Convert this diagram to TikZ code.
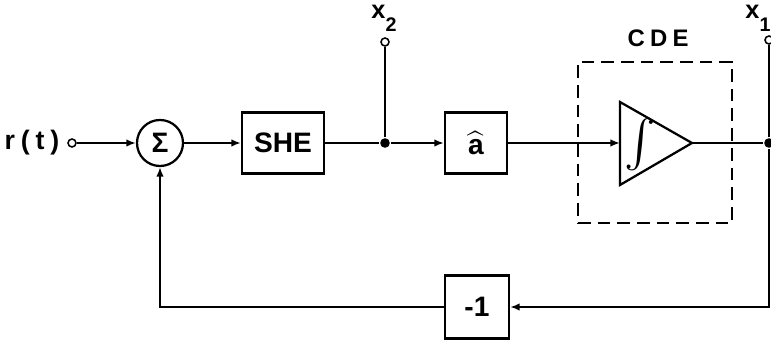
\documentclass[tikz,border=0pt]{standalone}
\usepackage{amsmath}
\usepackage{fontspec}
\setmainfont{Liberation Sans}
\newfontfamily\widefont[LetterSpace=22]{Liberation Sans}
\usetikzlibrary{arrows.meta}

\newcommand{\sublbl}[1]{\raisebox{-0.5em}{\fontsize{14}{15}\selectfont\bfseries #1}}

\begin{document}
\begin{tikzpicture}[
        x=0.025cm, y=-0.025cm,
        line width=1.6pt, >={Latex[length=2.4mm,width=1.9mm]},
        blk/.style={draw, inner sep=0pt, font=\fontsize{20}{22}\selectfont\bfseries},
        sum/.style={circle, draw, minimum size=1.15cm, inner sep=0pt, font=\fontsize{20}{22}\selectfont\bfseries},
        port/.style={circle, draw, fill=white, minimum size=0.2cm, inner sep=0pt, line width=1.1pt},
        dot/.style={circle, fill, minimum size=0.24cm, inner sep=0pt},
        lbl/.style={font=\fontsize{18}{19}\selectfont\bfseries},
        wlbl/.style={font=\widefont\fontsize{19}{20}\selectfont\bfseries}]
      \useasboundingbox (0,0) rectangle (771,340);

      % forward path
      \node[wlbl] (rt) at (32,143) {r(t)};
      \node[port] (in) at (72,143) {};
      \node[sum] (sum) at (160,143) {Σ};
      \node[blk, minimum width=2.05cm, minimum height=1.525cm] (she) at (283,143) {SHE};
      \node[dot] (j2) at (385,143) {};
      \node[port] (x2) at (385,42) {};
      \node[lbl] (x2lbl) at (384,18) {x\sublbl{2}};
      \node[blk, minimum width=1.55cm, minimum height=1.525cm] (ahat) at (476,143) {$\widehat{\text{a}}$};

      % integrator inside CDE
      \node[draw, line width=1.3pt, dash pattern=on 9pt off 5pt, minimum width=3.85cm, minimum height=4.025cm] (cde) at (655,142.5) {};
      \node[wlbl, font=\widefont\fontsize{17}{18}\selectfont\bfseries] (cdelbl) at (658,38) {CDE};
      \coordinate (integ-in) at (620,143);
      \coordinate (integ-out) at (692,143);
      \draw (620,102) -- (integ-out) -- (620,185) -- cycle;
      \node (integ) at (640,145) {\resizebox{!}{0.95cm}{$\boldsymbol{\int}$}};

      % output
      \node[dot] (j1) at (769,143) {};
      \node[port] (x1) at (769,40) {};
      \node[lbl] (x1lbl) at (758,18) {x\sublbl{1}};

      % feedback
      \node[blk, minimum width=1.6cm, minimum height=1.575cm] (neg) at (477,307) {-1};

      \draw[->] (in) -- (sum);
      \draw[->] (sum) -- (she);
      \draw (she) -- (j2);
      \draw (j2) -- (x2);
      \draw[->] (j2) -- (ahat);
      \draw[->] (ahat) -- (integ-in);
      \draw (integ-out) -- (j1);
      \draw (j1) -- (x1);
      \draw[->] (j1) |- (neg);
      \draw[->] (neg) -| (sum);
    \end{tikzpicture}
\end{document}
